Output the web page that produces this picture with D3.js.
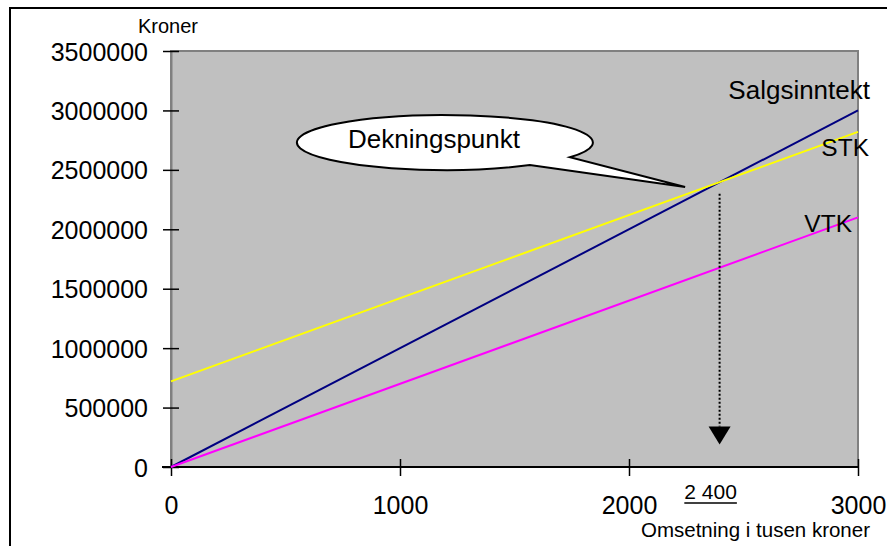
<!DOCTYPE html>
<html>
<head>
<meta charset="utf-8">
<script src="https://cdn.jsdelivr.net/npm/d3@7"></script>
<style>
  html, body { margin: 0; padding: 0; background: #fff; }
  svg { display: block; font-family: "Liberation Sans", Arial, sans-serif; }
</style>
</head>
<body>
<svg id="chart" width="887" height="546"></svg>
<script>
// Turnover in thousand kroner (x) and amounts in kroner (y)
const omsetning = [0, 3000];
const salgsinntekt = [0, 3000000];
const stk = [720000, 2820000];   // total cost: fixed 720 000 + variable
const vtk = [0, 2100000];        // variable cost
const dekningspunkt = 2400;      // break-even turnover
const xTicks = [0, 1000, 2000, 3000];
const yTicks = [0, 500000, 1000000, 1500000, 2000000, 2500000, 3000000, 3500000];

const svg = d3.select("#chart");
const plot = { left: 171, right: 858, top: 51, bottom: 467 };

const x = d3.scaleLinear().domain([0, 3000]).range([plot.left, plot.right]);
const y = d3.scaleLinear().domain([0, 3500000]).range([plot.bottom, plot.top]);

// outer frame
svg.append("rect").attr("x", 10).attr("y", 8).attr("width", 900).attr("height", 600)
  .attr("fill", "#fff").attr("stroke", "#000").attr("stroke-width", 2);

// plot area
svg.append("rect")
  .attr("x", plot.left).attr("y", plot.top)
  .attr("width", plot.right - plot.left).attr("height", plot.bottom - plot.top)
  .attr("fill", "#c0c0c0").attr("stroke", "#808080").attr("stroke-width", 2);

// y axis
const yAxis = d3.axisLeft(y).tickValues(yTicks).tickFormat(d3.format("d"))
  .tickSizeInner(8).tickSizeOuter(0).tickPadding(14);
const gy = svg.append("g").attr("transform", `translate(${plot.left},0)`).call(yAxis);
gy.select(".domain").attr("stroke", "#808080").attr("stroke-width", 2);
gy.selectAll(".tick line").attr("x1", 8).attr("x2", -8).attr("stroke", "#000").attr("stroke-width", 1.5);
gy.selectAll(".tick text").attr("font-size", 25).attr("fill", "#000")
  .attr("font-family", "Liberation Sans, Arial, sans-serif").attr("x", -23).attr("dy", "0.36em");

// x axis
const xAxis = d3.axisBottom(x).tickValues(xTicks).tickFormat(d3.format("d"))
  .tickSizeInner(8).tickSizeOuter(0).tickPadding(0);
const gx = svg.append("g").attr("transform", `translate(0,${plot.bottom})`).call(xAxis);
gx.select(".domain").attr("stroke", "#000").attr("stroke-width", 2)
  .attr("d", `M${plot.left - 9},0H${plot.right}`);
gx.selectAll(".tick line").attr("y1", -8).attr("y2", 9).attr("stroke", "#000").attr("stroke-width", 1.5);
gx.selectAll(".tick text").attr("font-size", 25).attr("fill", "#000")
  .attr("font-family", "Liberation Sans, Arial, sans-serif").attr("y", 47).attr("dy", 0);

// cost and revenue lines
const series = [
  { name: "Salgsinntekt", values: salgsinntekt, color: "#000080", dx: 12, dy: -11, size: 26 },
  { name: "STK", values: stk, color: "#ffff00", dx: 11, dy: 24, size: 24.5 },
  { name: "VTK", values: vtk, color: "#ff00ff", dx: -6, dy: 14.5, size: 24.5 }
];
const line = d3.line().x((d, i) => x(omsetning[i])).y(d => y(d));
series.forEach(s => {
  svg.append("path").datum(s.values).attr("d", line)
    .attr("fill", "none").attr("stroke", s.color).attr("stroke-width", 2);
});
series.forEach(s => {
  svg.append("text")
    .attr("x", x(omsetning[1]) + s.dx)
    .attr("y", y(s.values[1]) + s.dy)
    .attr("text-anchor", "end").attr("font-size", s.size).attr("fill", "#000")
    .text(s.name);
});

// break-even marker: dotted drop line and arrow head
const bx = x(dekningspunkt);
svg.append("line").attr("x1", bx - 1).attr("x2", bx - 1)
  .attr("y1", y(2300000)).attr("y2", y(340000))
  .attr("stroke", "#000").attr("stroke-width", 2).attr("stroke-dasharray", "2,2");
const ay = y(340000);
svg.append("path")
  .attr("d", `M${bx - 12},${ay}L${bx + 10},${ay}L${bx - 1},${ay + 18}Z`)
  .attr("fill", "#000");

// callout bubble
const tip = [x(2245), y(2356000)];
const cx = x(1196), cy = y(2730000), rx = 148, ry = 27.5;
const p1x = cx + 125, p1y = cy + ry * Math.sqrt(1 - (125 / rx) ** 2);
const p2x = cx + 85, p2y = cy + ry * Math.sqrt(1 - (85 / rx) ** 2);
svg.append("path")
  .attr("d", `M${p1x},${p1y}A${rx},${ry} 0 1 0 ${p2x},${p2y}L${tip[0]},${tip[1]}Z`)
  .attr("fill", "#fff").attr("stroke", "#000").attr("stroke-width", 2)
  .attr("stroke-linejoin", "miter");
svg.append("text").attr("x", 348).attr("y", cy + 5).attr("text-anchor", "start")
  .attr("font-size", 26).attr("fill", "#000").text("Dekningspunkt");

// break-even value under the axis
const lbl = svg.append("text").attr("x", bx - 10).attr("y", 499).attr("text-anchor", "middle")
  .attr("font-size", 21).attr("fill", "#000").text("2 400");
const bb = lbl.node().getBBox();
svg.append("line").attr("x1", bb.x).attr("x2", bb.x + bb.width).attr("y1", 503).attr("y2", 503)
  .attr("stroke", "#000").attr("stroke-width", 1.5);

// axis titles
svg.append("text").attr("x", 168).attr("y", 33).attr("text-anchor", "middle")
  .attr("font-size", 20).attr("fill", "#000").text("Kroner");
svg.append("text").attr("x", 870).attr("y", 537).attr("text-anchor", "end")
  .attr("font-size", 20.5).attr("fill", "#000").text("Omsetning i tusen kroner");
</script>
</body>
</html>
